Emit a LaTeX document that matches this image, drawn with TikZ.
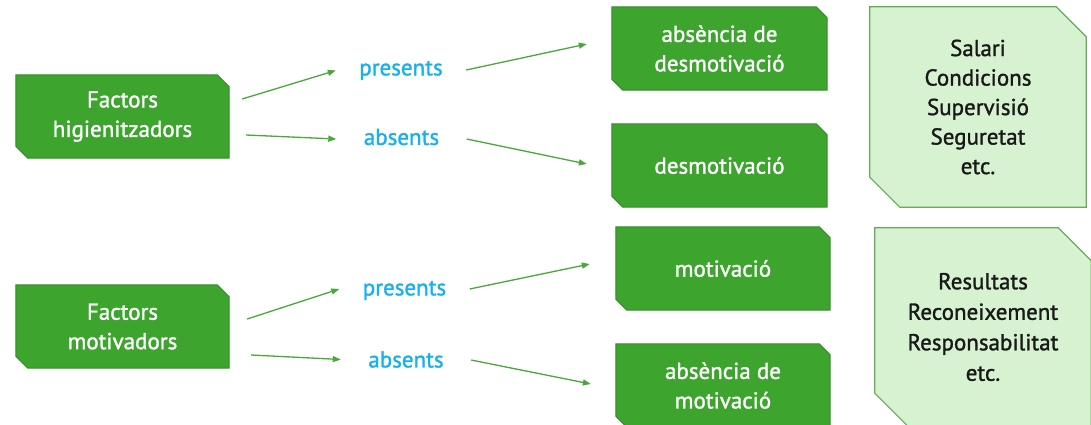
\documentclass[tikz,border=0pt]{standalone}
\usepackage{fontspec}
\setmainfont{PT Sans}[FakeBold=1.3]
\usetikzlibrary{arrows.meta,backgrounds}
\definecolor{dkfill}{RGB}{61,164,46}
\definecolor{dkline}{RGB}{52,140,42}
\definecolor{ltfill}{RGB}{214,242,208}
\definecolor{ltline}{RGB}{104,170,88}
\definecolor{lblue}{RGB}{22,176,240}
\definecolor{arrowc}{RGB}{72,168,58}
\newcommand\snipshape[3]{% node, cut, style
  \path[#3] (#1.north west) -- ([shift={(-#2,0)}]#1.north east) -- ([shift={(0,#2)}]#1.north east)
    -- (#1.south east) -- ([shift={(#2,0)}]#1.south west) -- ([shift={(0,-#2)}]#1.south west) -- cycle;}
\begin{document}
\begin{tikzpicture}[x=1pt,y=-1pt,
  txt/.style={font=\fontsize{23}{29.5}\selectfont, align=center, inner sep=0pt},
  dkbox/.style={txt, text=white, minimum width=214pt, minimum height=83pt},
  ltbox/.style={txt, text=black!90, minimum width=216pt},
  lbl/.style={txt, text=lblue, minimum width=130pt},
  dkshape/.style={fill=dkfill, draw=dkline, line width=1pt},
  ltshape/.style={fill=ltfill, draw=ltline, line width=1.2pt},
  conn/.style={draw=arrowc, line width=1.3pt, -{Triangle[length=8pt,width=6pt]}}]
\useasboundingbox (0,0) rectangle (1091,424);
% left boxes
\node[dkbox, minimum width=213pt] (fh) at (122.5,116.5) {Factors\\higienitzadors};
\node[dkbox, minimum width=213pt] (fm) at (122.5,326.5) {Factors\\motivadors};
% labels
\node[lbl] (p1) at (401,70.5) {presents};
\node[lbl] (a1) at (401.5,137) {absents};
\node[lbl] (p2) at (404.5,290.5) {presents};
\node[lbl] (a2) at (406,359.5) {absents};
% middle boxes
\node[dkbox, minimum width=215pt] (b1) at (719.5,48.5) {absència de\\desmotivació};
\node[dkbox, minimum width=215pt] (b2) at (719.5,165.5) {desmotivació};
\node[dkbox] (b3) at (723,268.5) {motivació};
\node[dkbox] (b4) at (723,385.5) {absència de\\motivació};
% right boxes
\node[ltbox, minimum height=200pt] (r1) at (978,107) {Salari\\Condicions\\Supervisió\\Seguretat\\etc.};
\node[ltbox, minimum height=198pt, font=\fontsize{23}{30.5}\selectfont] (r2) at (983,327) {Resultats\\Reconeixement\\Responsabilitat\\etc.};
\begin{scope}[on background layer]
  \snipshape{fh}{12}{dkshape}
  \snipshape{fm}{12}{dkshape}
  \snipshape{b1}{11}{dkshape}
  \snipshape{b2}{11}{dkshape}
  \snipshape{b3}{11}{dkshape}
  \snipshape{b4}{11}{dkshape}
  \snipshape{r1}{30}{ltshape}
  \snipshape{r2}{33}{ltshape}
\end{scope}
% connectors
\draw[conn] ([shift={(13,-17.5)}]fh.east) -- (p1.west);
\draw[conn] ([shift={(17,18.5)}]fh.east) -- ([shift={(0,2)}]a1.west);
\draw[conn] ([shift={(18,-7.5)}]fm.east) -- ([shift={(0,-1.5)}]p2.west);
\draw[conn] ([shift={(22,28.5)}]fm.east) -- (a2.west);
\draw[conn] ([shift={(0,-0.5)}]p1.east) -- ([shift={(-25,-4.5)}]b1.west);
\draw[conn] ([shift={(0,2)}]a1.east) -- ([shift={(-25,-1.5)}]b2.west);
\draw[conn] ([shift={(0,-1.5)}]p2.east) -- ([shift={(-26,-4.5)}]b3.west);
\draw[conn] ([shift={(0,0.5)}]a2.east) -- ([shift={(-25,-1.5)}]b4.west);
\end{tikzpicture}
\end{document}
